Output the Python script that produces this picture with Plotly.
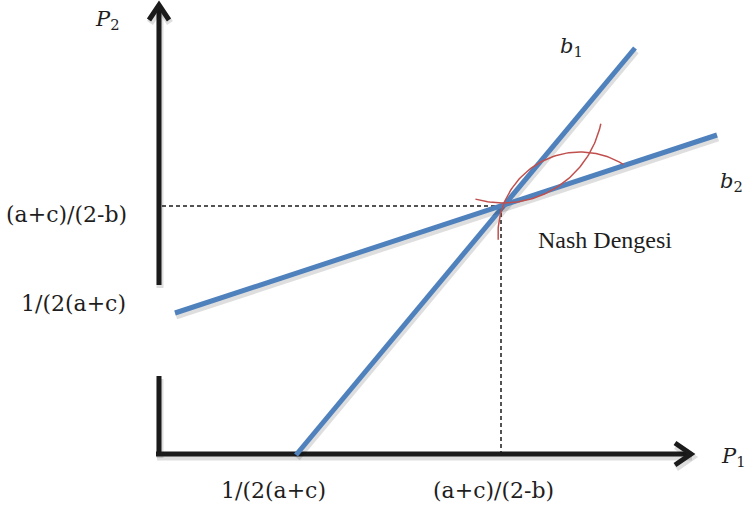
import numpy as np
import plotly.graph_objects as go

# ---- diagram data (canvas units, y grows downward) ----
# axes
y_axis_x = [159, 159, None, 159, 159]
y_axis_y = [455, 376, None, 285, 6]
x_axis_x = [156, 691]
x_axis_y = [454, 454]
y_arrow_x = [149, 159, 169]
y_arrow_y = [20, 5, 20]
x_arrow_x = [675, 691, 675]
x_arrow_y = [443, 454, 465]

# reaction lines
b1_x = [296, 635]
b1_y = [455, 48]
b2_x = [175, 717]
b2_y = [313, 135]

# equilibrium guide lines
eq_h_x = [162, 501]
eq_h_y = [206, 206]
eq_v_x = [501, 501]
eq_v_y = [206, 454]

# indifference arcs: centre x, centre y, radius, start angle, end angle (deg)
arc1 = dict(cx=503, cy=103, r=100, a0=106, a1=12)
arc2 = dict(cx=580, cy=234, r=82, a0=176, a1=302)

# labels
math_labels = ["(a+c)/(2-b)", "1/(2(a+c)", "1/(2(a+c)", "(a+c)/(2-b)"]
math_label_x = [66, 73, 273, 493]
math_label_y = [214, 303, 490, 490]

BLUE = "#4f81bd"
RED = "#c0504d"
BLACK = "#1b1b1b"
SHADOW = "rgba(0,0,0,0.13)"

fig = go.Figure()


def add_line(xs, ys, color, width, dash=None, shadow=False):
    if shadow:
        sx = [None if v is None else v + 1 for v in xs]
        sy = [None if v is None else v + 3 for v in ys]
        fig.add_trace(go.Scatter(x=sx, y=sy, mode="lines",
                                 line=dict(color=SHADOW, width=width + 2),
                                 hoverinfo="skip", showlegend=False))
    fig.add_trace(go.Scatter(x=xs, y=ys, mode="lines",
                             line=dict(color=color, width=width, dash=dash),
                             hoverinfo="skip", showlegend=False,
                             connectgaps=False))


def arc_points(a):
    t = np.radians(np.linspace(a["a0"], a["a1"], 80))
    return a["cx"] + a["r"] * np.cos(t), a["cy"] + a["r"] * np.sin(t)


# axes
add_line(y_axis_x, y_axis_y, BLACK, 5, shadow=True)
add_line(x_axis_x, x_axis_y, BLACK, 5, shadow=True)
add_line(y_arrow_x, y_arrow_y, BLACK, 5, shadow=True)
add_line(x_arrow_x, x_arrow_y, BLACK, 5, shadow=True)

# dashed guides
add_line(eq_h_x, eq_h_y, BLACK, 1.5, dash="4px,3px")
add_line(eq_v_x, eq_v_y, BLACK, 1.5, dash="4px,3px")

# reaction functions
add_line(b1_x, b1_y, BLUE, 5, shadow=True)
add_line(b2_x, b2_y, BLUE, 5, shadow=True)

# arcs
for a in (arc1, arc2):
    ax_, ay_ = arc_points(a)
    add_line(list(ax_), list(ay_), RED, 1.5)

MATH_FONT = "DejaVu Serif"
for t, x, y in zip(math_labels, math_label_x, math_label_y):
    fig.add_annotation(x=x, y=y, text=t, showarrow=False,
                       font=dict(family=MATH_FONT, size=22, color="#1e1e1e"),
                       xanchor="center", yanchor="middle")

italic_labels = [("P", "2", 107, 20), ("P", "1", 733, 457),
                 ("b", "1", 571, 47), ("b", "2", 731, 182)]
for base, sub, x, y in italic_labels:
    fig.add_annotation(x=x, y=y, text=f"<i>{base}</i><sub>{sub}</sub>",
                       showarrow=False,
                       font=dict(family=MATH_FONT, size=21, color="#1e1e1e"),
                       xanchor="center", yanchor="middle")

fig.add_annotation(x=605, y=240, text="Nash Dengesi", showarrow=False,
                   font=dict(family="Liberation Serif", size=24, color="#1e1e1e"),
                   xanchor="center", yanchor="middle")

fig.update_xaxes(range=[0, 748], visible=False, fixedrange=True)
fig.update_yaxes(range=[510, 0], visible=False, fixedrange=True)
fig.update_layout(width=748, height=510, margin=dict(l=0, r=0, t=0, b=0),
                  paper_bgcolor="white", plot_bgcolor="white")

fig.write_html(
    "out.html",
    config={"displayModeBar": False, "staticPlot": True},
    post_script="document.body.style.margin='0';"
                "document.body.style.overflow='hidden';",
)
